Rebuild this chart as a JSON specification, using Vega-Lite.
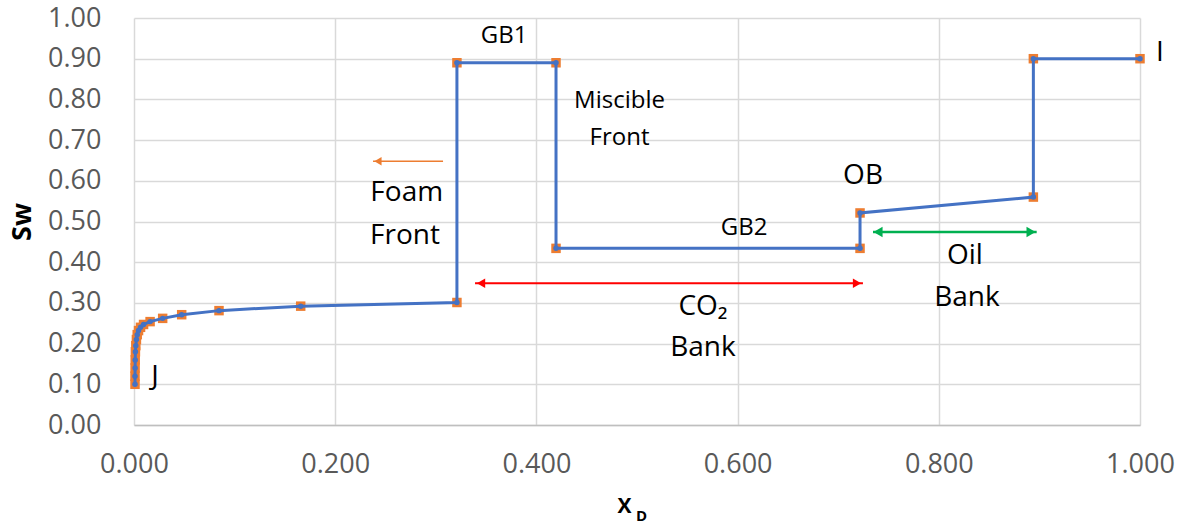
{
  "$schema": "https://vega.github.io/schema/vega-lite/v6.json",
  "width": 1006,
  "height": 407,
  "autosize": {"type": "none"},
  "padding": {"left": 134, "top": 18, "right": 38, "bottom": 106},
  "background": "white",
  "config": {
    "view": {"stroke": null},
    "font": "Open Sans",
    "axis": {"gridColor": "#D9D9D9", "gridWidth": 1.5, "ticks": false, "domain": false, "labelFlush": false, "labelOverlap": false, "labelFont": "Open Sans", "labelFontSize": 27, "labelColor": "#595959", "titleFont": "Open Sans", "titleFontWeight": "bold", "titleColor": "#000000"}
  },
  "datasets": {
    "curve": [
      {"order": 1, "x": 0.001, "sw": 0.10},
      {"order": 2, "x": 0.001, "sw": 0.12},
      {"order": 3, "x": 0.0011, "sw": 0.14},
      {"order": 4, "x": 0.0012, "sw": 0.16},
      {"order": 5, "x": 0.0014, "sw": 0.18},
      {"order": 6, "x": 0.0018, "sw": 0.195},
      {"order": 7, "x": 0.0024, "sw": 0.21},
      {"order": 8, "x": 0.0032, "sw": 0.222},
      {"order": 9, "x": 0.0045, "sw": 0.232},
      {"order": 10, "x": 0.0065, "sw": 0.24},
      {"order": 11, "x": 0.0095, "sw": 0.247},
      {"order": 12, "x": 0.016, "sw": 0.254},
      {"order": 13, "x": 0.0285, "sw": 0.262},
      {"order": 14, "x": 0.0474, "sw": 0.271},
      {"order": 15, "x": 0.0845, "sw": 0.281},
      {"order": 16, "x": 0.1657, "sw": 0.292},
      {"order": 17, "x": 0.321, "sw": 0.301},
      {"order": 18, "x": 0.321, "sw": 0.890},
      {"order": 19, "x": 0.4195, "sw": 0.890},
      {"order": 20, "x": 0.4195, "sw": 0.434},
      {"order": 21, "x": 0.7217, "sw": 0.434},
      {"order": 22, "x": 0.7217, "sw": 0.521},
      {"order": 23, "x": 0.894, "sw": 0.560},
      {"order": 24, "x": 0.894, "sw": 0.900},
      {"order": 25, "x": 1.0, "sw": 0.900}
    ],
    "arrows": [
      {"arrow": "foam", "x1": 0.2376, "x2": 0.3072, "y": 0.648},
      {"arrow": "co2", "x1": 0.339, "x2": 0.7246, "y": 0.348},
      {"arrow": "oil", "x1": 0.7346, "x2": 0.8973, "y": 0.474}
    ],
    "heads": [
      {"arrow": "foam", "dir": "left", "x": 0.2425, "y": 0.648},
      {"arrow": "co2", "dir": "left", "x": 0.345, "y": 0.348},
      {"arrow": "co2", "dir": "right", "x": 0.7187, "y": 0.348},
      {"arrow": "oil", "dir": "left", "x": 0.7396, "y": 0.474},
      {"arrow": "oil", "dir": "right", "x": 0.8917, "y": 0.474}
    ],
    "bigLabels": [
      {"text": "Foam", "x": 0.2711, "y": 0.569},
      {"text": "Front", "x": 0.2694, "y": 0.464},
      {"text": "CO₂", "x": 0.5656, "y": 0.289},
      {"text": "Bank", "x": 0.5656, "y": 0.190},
      {"text": "OB", "x": 0.7247, "y": 0.613},
      {"text": "Oil", "x": 0.826, "y": 0.416},
      {"text": "Bank", "x": 0.828, "y": 0.311},
      {"text": "J", "x": 0.0209, "y": 0.119},
      {"text": "I", "x": 1.0199, "y": 0.915}
    ],
    "smallLabels": [
      {"text": "GB1", "x": 0.368, "y": 0.957},
      {"text": "Miscible", "x": 0.4826, "y": 0.797},
      {"text": "Front", "x": 0.4826, "y": 0.706},
      {"text": "GB2", "x": 0.6064, "y": 0.485}
    ],
    "sub": [
      {"text": "D", "x": 0.5045, "y": -0.2236}
    ]
  },
  "layer": [
    {
      "data": {"name": "arrows"},
      "mark": {"type": "rule"},
      "encoding": {
        "x": {"field": "x1", "type": "quantitative", "scale": {"domain": [0, 1], "nice": false, "zero": false},
          "axis": {"values": [0, 0.2, 0.4, 0.6, 0.8, 1.0], "format": ".3f", "labelPadding": 26, "title": "X", "titleFontSize": 21, "titleX": 490, "titlePadding": 18, "domain": true, "domainColor": "#BFBFBF", "domainWidth": 1.5}},
        "x2": {"field": "x2"},
        "y": {"field": "y", "type": "quantitative", "scale": {"domain": [0, 1], "nice": false, "zero": false},
          "axis": {"values": [0, 0.1, 0.2, 0.3, 0.4, 0.5, 0.6, 0.7, 0.8, 0.9, 1.0], "format": ".2f", "labelPadding": 33, "title": "Sw", "titleFontSize": 27, "titlePadding": 11}},
        "color": {"field": "arrow", "type": "nominal", "scale": {"domain": ["foam", "co2", "oil"], "range": ["#ED7D31", "#FF0000", "#00B050"]}, "legend": null},
        "strokeWidth": {"field": "arrow", "type": "nominal", "scale": {"domain": ["foam", "co2", "oil"], "range": [1.5, 2.5, 1.5]}, "legend": null}
      }
    },
    {
      "data": {"name": "heads"},
      "mark": {"type": "point", "filled": true, "opacity": 1},
      "encoding": {
        "x": {"field": "x", "type": "quantitative"},
        "y": {"field": "y", "type": "quantitative"},
        "shape": {"field": "dir", "type": "nominal", "scale": {"domain": ["left", "right"], "range": ["triangle-left", "triangle-right"]}, "legend": null},
        "color": {"field": "arrow", "type": "nominal", "scale": {"domain": ["foam", "co2", "oil"], "range": ["#ED7D31", "#FF0000", "#00B050"]}, "legend": null},
        "size": {"field": "arrow", "type": "nominal", "scale": {"domain": ["foam", "co2", "oil"], "range": [70, 110, 70]}, "legend": null}
      }
    },
    {
      "data": {"name": "curve"},
      "mark": {"type": "point", "shape": "square", "filled": true, "color": "#ED7D31", "size": 90, "opacity": 1},
      "encoding": {
        "x": {"field": "x", "type": "quantitative"},
        "y": {"field": "sw", "type": "quantitative"}
      }
    },
    {
      "data": {"name": "curve"},
      "mark": {"type": "line", "color": "#4472C4", "strokeWidth": 3},
      "encoding": {
        "x": {"field": "x", "type": "quantitative"},
        "y": {"field": "sw", "type": "quantitative"},
        "order": {"field": "order", "type": "quantitative"}
      }
    },
    {
      "data": {"name": "curve"},
      "mark": {"type": "circle", "color": "#4472C4", "size": 30, "opacity": 1},
      "encoding": {
        "x": {"field": "x", "type": "quantitative"},
        "y": {"field": "sw", "type": "quantitative"}
      }
    },
    {
      "data": {"name": "bigLabels"},
      "mark": {"type": "text", "font": "Open Sans", "fontSize": 28, "color": "#000000", "align": "center", "baseline": "middle"},
      "encoding": {
        "x": {"field": "x", "type": "quantitative"},
        "y": {"field": "y", "type": "quantitative"},
        "text": {"field": "text"}
      }
    },
    {
      "data": {"name": "smallLabels"},
      "mark": {"type": "text", "font": "Open Sans", "fontSize": 24, "color": "#000000", "align": "center", "baseline": "middle"},
      "encoding": {
        "x": {"field": "x", "type": "quantitative"},
        "y": {"field": "y", "type": "quantitative"},
        "text": {"field": "text"}
      }
    },
    {
      "data": {"name": "sub"},
      "mark": {"type": "text", "font": "Open Sans", "fontSize": 15, "fontWeight": "bold", "color": "#000000", "align": "center", "baseline": "middle"},
      "encoding": {
        "x": {"field": "x", "type": "quantitative"},
        "y": {"field": "y", "type": "quantitative"},
        "text": {"field": "text"}
      }
    }
  ]
}
